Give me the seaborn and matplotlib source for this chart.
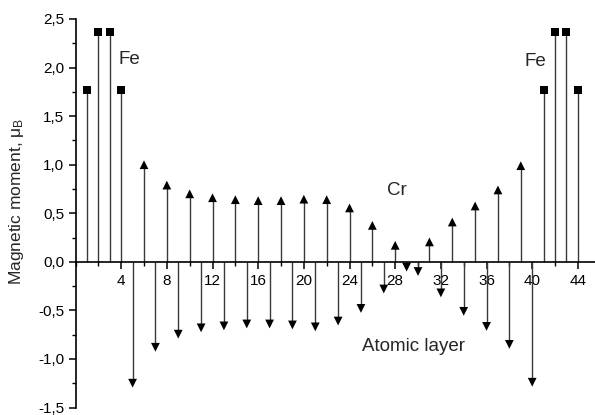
import numpy as np
import pandas as pd
import matplotlib
matplotlib.use("Agg")
import matplotlib.pyplot as plt
import seaborn as sns
from matplotlib.ticker import MultipleLocator, FuncFormatter, FixedLocator

# Data
fe_layers = [1, 2, 3, 4, 41, 42, 43, 44]
fe_moments = [1.77, 2.37, 2.37, 1.77, 1.77, 2.37, 2.37, 1.77]

cr_layers = list(range(5, 41))
cr_moments = [-1.25, 1.00, -0.88, 0.79, -0.745, 0.70, -0.68, 0.66, -0.66, 0.64,
              -0.64, 0.63, -0.64, 0.63, -0.65, 0.645, -0.67, 0.64, -0.61, 0.555,
              -0.48, 0.375, -0.28, 0.17, -0.055, -0.10, 0.205, -0.32, 0.41, -0.51,
              0.575, -0.665, 0.74, -0.85, 0.99, -1.24]

x_ticks = [4, 8, 12, 16, 20, 24, 28, 32, 36, 40, 44]
y_ticks = [-1.5, -1.0, -0.5, 0.0, 0.5, 1.0, 1.5, 2.0, 2.5]

sns.set_theme(style="ticks")
plt.rcParams['font.family'] = ['Liberation Sans', 'DejaVu Sans']
plt.rcParams['mathtext.fontset'] = 'custom'
plt.rcParams['mathtext.rm'] = 'Liberation Sans'
plt.rcParams['mathtext.it'] = 'Liberation Sans:italic'

df = pd.DataFrame({
    "layer": fe_layers + cr_layers,
    "moment": fe_moments + cr_moments,
    "kind": ["Fe"] * len(fe_layers) + ["up" if m > 0 else "down" for m in cr_moments],
})

fig = plt.figure(figsize=(5.95, 4.15), dpi=100)
ax = fig.add_axes([75.5 / 595, 1 - 407.5 / 415, (595 - 75.5) / 595, (407.5 - 19) / 415])

ax.vlines(df["layer"], 0, df["moment"], color="#3a3a3a", linewidth=1.0, zorder=2)

fe_df = df[df["kind"] == "Fe"]
cr_df = df[df["kind"] != "Fe"]
sns.scatterplot(data=fe_df, x="layer", y="moment", marker="s", s=30, color="black",
                linewidth=0, legend=False, ax=ax, zorder=3)
sns.scatterplot(data=cr_df, x="layer", y="moment", style="kind",
                markers={"up": "^", "down": "v"}, s=40, color="black",
                linewidth=0, legend=False, ax=ax, zorder=3)

ax.set_xlim(0, 45.5)
ax.set_ylim(-1.5, 2.5)

ax.spines['top'].set_visible(False)
ax.spines['right'].set_visible(False)
ax.spines['bottom'].set_position(('data', 0))
for sp in ("left", "bottom"):
    ax.spines[sp].set_linewidth(1.2)
    ax.spines[sp].set_color("black")

ax.xaxis.set_major_locator(FixedLocator(x_ticks))
ax.xaxis.set_minor_locator(MultipleLocator(2))
ax.yaxis.set_major_locator(FixedLocator(y_ticks))
ax.yaxis.set_minor_locator(MultipleLocator(0.25))
ax.yaxis.set_major_formatter(FuncFormatter(lambda v, p: f"{v:.1f}".replace(".", ",")))
ax.tick_params(axis="both", which="major", direction="out", length=5, width=1.1,
               labelsize=11, colors="black", pad=3)
ax.tick_params(axis="both", which="minor", direction="out", length=3, width=1.0, colors="black")
ax.tick_params(axis="x", which="major", pad=4)

ax.set_xlabel("")
ax.set_ylabel("Magnetic moment, μ$_\\mathrm{B}$", fontsize=12.5)
ax.yaxis.set_label_coords(-0.095, 0.53)

ax.text(4.7, 2.08, "Fe", fontsize=13.5, ha="center", va="center")
ax.text(40.3, 2.06, "Fe", fontsize=13.5, ha="center", va="center")
ax.text(28.15, 0.73, "Cr", fontsize=13.5, ha="center", va="center")
ax.text(29.6, -0.87, "Atomic layer", fontsize=13.5, ha="center", va="center")

fig.savefig("out.png", dpi=100)
